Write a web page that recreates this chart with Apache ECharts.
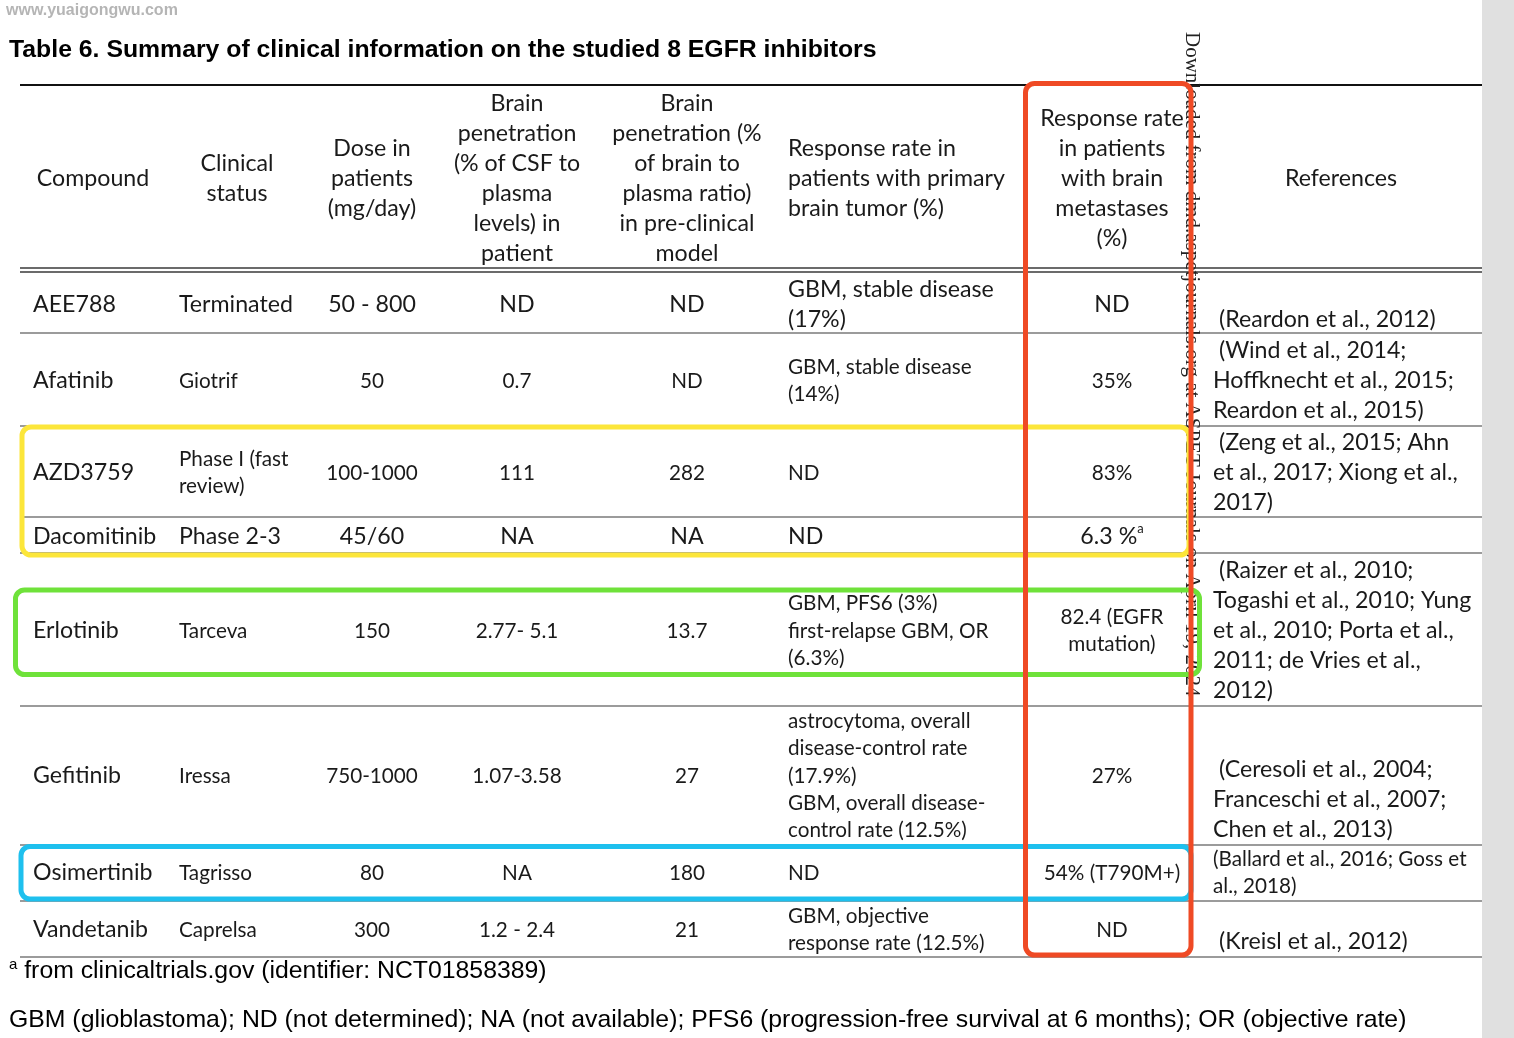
<!DOCTYPE html>
<html>
<head>
<meta charset="utf-8">
<title>Table 6</title>
<script src="https://cdn.jsdelivr.net/npm/echarts@6/dist/echarts.min.js"></script>
<style>
  html, body { margin: 0; padding: 0; background: #fff; }
  #chart { width: 1514px; height: 1038px; }
</style>
</head>
<body>
<div id="chart"></div>
<script>
// ---- table content ----
const headers = [
  'Compound',
  'Clinical\nstatus',
  'Dose in\npatients\n(mg/day)',
  'Brain\npenetration\n(% of CSF to\nplasma\nlevels) in\npatient',
  'Brain\npenetration (%\nof brain to\nplasma ratio)\nin pre-clinical\nmodel',
  'Response rate in\npatients with primary\nbrain tumor (%)',
  'Response rate\nin patients\nwith brain\nmetastases\n(%)',
  'References'
];
const compounds = ['AEE788', 'Afatinib', 'AZD3759', 'Dacomitinib', 'Erlotinib', 'Gefitinib', 'Osimertinib', 'Vandetanib'];
const clinicalStatus = ['Terminated', 'Giotrif', 'Phase I (fast\nreview)', 'Phase 2-3', 'Tarceva', 'Iressa', 'Tagrisso', 'Caprelsa'];
const doses = ['50 - 800', '50', '100-1000', '45/60', '150', '750-1000', '80', '300'];
const csfPenetration = ['ND', '0.7', '111', 'NA', '2.77- 5.1', '1.07-3.58', 'NA', '1.2 - 2.4'];
const brainPenetration = ['ND', 'ND', '282', 'NA', '13.7', '27', '180', '21'];
const primaryTumorResponse = [
  'GBM, stable disease\n(17%)',
  'GBM, stable disease\n(14%)',
  'ND',
  'ND',
  'GBM, PFS6 (3%)\nfirst-relapse GBM, OR\n(6.3%)',
  'astrocytoma, overall\ndisease-control rate\n(17.9%)\nGBM, overall disease-\ncontrol rate (12.5%)',
  'ND',
  'GBM, objective\nresponse rate (12.5%)'
];
const metastasesResponse = ['ND', '35%', '83%', '6.3 %{sup|a}', '82.4 (EGFR\nmutation)', '27%', '54% (T790M+)', 'ND'];
const references = [
  ' (Reardon et al., 2012)',
  ' (Wind et al., 2014;\nHoffknecht et al., 2015;\nReardon et al., 2015)',
  ' (Zeng et al., 2015; Ahn\net al., 2017; Xiong et al.,\n2017)',
  '',
  ' (Raizer et al., 2010;\nTogashi et al., 2010; Yung\net al., 2010; Porta et al.,\n2011; de Vries et al.,\n2012)',
  ' (Ceresoli et al., 2004;\nFranceschi et al., 2007;\nChen et al., 2013)',
  '(Ballard et al., 2016; Goss et\nal., 2018)',
  ' (Kreisl et al., 2012)'
];
const titleText = 'Table 6. Summary of clinical information on the studied 8 EGFR inhibitors';
const footnotes = [
  '{sup|a} from clinicaltrials.gov (identifier: NCT01858389)',
  'GBM (glioblastoma); ND (not determined); NA (not available); PFS6 (progression-free survival at 6 months); OR (objective rate)'
];
const watermark = 'www.yuaigongwu.com';
const sideNote = 'Downloaded from dmd.aspetjournals.org at ASPET Journals on April 19, 2024';

// ---- layout ----
const columns = [compounds, clinicalStatus, doses, csfPenetration, brainPenetration, primaryTumorResponse, metastasesResponse, references];
const colX = [33, 179, 372, 517, 687, 788, 1112, 1213];
const colAlign = ['left', 'left', 'center', 'center', 'center', 'left', 'center', 'left'];
const headX = [93, 237, 372, 517, 687, 788, 1112, 1341];
const headAlign = ['center', 'center', 'center', 'center', 'center', 'left', 'center', 'center'];
const headMid = 179;
const rowMid = [305, 381, 473, 537, 631, 776, 873, 930];
const refMid = [320, 381, 473, 537, 631, 800, 873, 942];
const smallRows = [1, 2, 4, 5, 6, 7];
const BIG = 23.2, SMALL = 20.7;
const FONT = 'Lato, "Noto Sans", sans-serif';
const ARIAL = '"Liberation Sans", Arial, sans-serif';
const tableLeft = 20, tableRight = 1482;

const rules = [
  { y: 85, w: 2, c: '#111' },
  { y: 268, w: 1.6, c: '#3a3a3a' },
  { y: 272, w: 1.6, c: '#3a3a3a' },
  { y: 333, w: 1.6, c: '#7a7a7a' },
  { y: 426, w: 1.6, c: '#7a7a7a' },
  { y: 517, w: 1.6, c: '#7a7a7a' },
  { y: 553, w: 1.6, c: '#7a7a7a' },
  { y: 706, w: 1.6, c: '#7a7a7a' },
  { y: 845, w: 1.6, c: '#7a7a7a' },
  { y: 901, w: 1.6, c: '#7a7a7a' },
  { y: 957, w: 1.6, c: '#7a7a7a' }
];
const boxes = [
  { x0: 22, y0: 427, x1: 1189, y1: 555, c: '#fce63a' },
  { x0: 15.5, y0: 590, x1: 1199.5, y1: 674.5, c: '#6fe23a' },
  { x0: 21, y0: 846.5, x1: 1191, y1: 899, c: '#1ec0ee' },
  { x0: 1025.5, y0: 83.5, x1: 1191, y1: 955, c: '#ef4a25' }
];

// build cell list for the custom series
const cells = [];
headers.forEach((h, c) => {
  cells.push({ value: [headX[c], headMid], text: h, align: headAlign[c], size: BIG, lh: 30 });
});
columns.forEach((col, c) => {
  col.forEach((t, r) => {
    let small = c > 0 && smallRows.indexOf(r) >= 0;
    if (c === 7) small = r === 6;
    cells.push({
      value: [colX[c], c === 7 ? refMid[r] : rowMid[r]],
      text: t,
      align: colAlign[c],
      size: small ? SMALL : BIG,
      lh: small ? 27.3 : 30
    });
  });
});

const notes = [
  { value: [9, 50], text: titleText, size: 24.8, weight: 'bold', color: '#000' },
  { value: [9, 971], text: footnotes[0], size: 24.8, weight: 'normal', color: '#000' },
  { value: [9, 1020], text: footnotes[1], size: 24.8, weight: 'normal', color: '#000' },
  { value: [6, 11], text: watermark, size: 16, weight: 'bold', color: '#b5b5b5' }
];

const chart = echarts.init(document.getElementById('chart'));

const option = {
  backgroundColor: '#fff',
  animation: false,
  grid: { left: 0, right: 0, top: 0, bottom: 0 },
  xAxis: { type: 'value', min: 0, max: 1514, show: false },
  yAxis: { type: 'value', min: 0, max: 1038, inverse: true, show: false },
  series: [
    {
      // grey page edge on the right
      type: 'custom',
      silent: true,
      data: [[tableRight, 0, 1514, 1038]],
      renderItem: (params, api) => {
        const p0 = api.coord([api.value(0), api.value(1)]);
        const p1 = api.coord([api.value(2), api.value(3)]);
        return {
          type: 'rect',
          shape: { x: p0[0], y: p0[1], width: p1[0] - p0[0], height: p1[1] - p0[1] },
          style: { fill: '#e0e0e0' }
        };
      }
    },
    {
      type: 'custom',
      silent: true,
      data: rules.map(r => [tableLeft, r.y, tableRight]),
      renderItem: (params, api) => {
        const r = rules[params.dataIndex];
        const a = api.coord([api.value(0), api.value(1)]);
        const b = api.coord([api.value(2), api.value(1)]);
        return {
          type: 'line',
          shape: { x1: a[0], y1: a[1], x2: b[0], y2: b[1] },
          style: { stroke: r.c, lineWidth: r.w }
        };
      }
    },
    {
      type: 'custom',
      silent: true,
      data: cells.map(d => d.value),
      renderItem: (params, api) => {
        const d = cells[params.dataIndex];
        const p = api.coord([api.value(0), api.value(1)]);
        return {
          type: 'text',
          x: p[0],
          y: p[1],
          style: {
            text: d.text,
            fontFamily: FONT,
            fontSize: d.size,
            lineHeight: d.lh,
            fill: '#1a1a1a',
            align: d.align,
            verticalAlign: 'middle',
            rich: { sup: { fontSize: 13, fontFamily: FONT, verticalAlign: 'top', lineHeight: 30 } }
          }
        };
      }
    },
    {
      type: 'custom',
      silent: true,
      data: notes.map(d => d.value),
      renderItem: (params, api) => {
        const d = notes[params.dataIndex];
        const p = api.coord([api.value(0), api.value(1)]);
        return {
          type: 'text',
          x: p[0],
          y: p[1],
          style: {
            text: d.text,
            fontFamily: ARIAL,
            fontSize: d.size,
            fontWeight: d.weight,
            fill: d.color,
            align: 'left',
            verticalAlign: 'middle',
            rich: { sup: { fontSize: 15, fontFamily: ARIAL, verticalAlign: 'top', lineHeight: 28 } }
          }
        };
      }
    },
    {
      // rotated download stamp
      type: 'custom',
      silent: true,
      data: [[1192, 32]],
      renderItem: (params, api) => {
        const p = api.coord([api.value(0), api.value(1)]);
        return {
          type: 'text',
          x: p[0],
          y: p[1],
          rotation: -Math.PI / 2,
          style: {
            text: sideNote,
            fontFamily: '"Liberation Serif", "DejaVu Serif", serif',
            fontSize: 21,
            fill: '#222',
            align: 'left',
            verticalAlign: 'middle'
          }
        };
      }
    },
    {
      type: 'custom',
      silent: true,
      data: boxes.map(b => [b.x0, b.y0, b.x1, b.y1]),
      renderItem: (params, api) => {
        const b = boxes[params.dataIndex];
        const p0 = api.coord([api.value(0), api.value(1)]);
        const p1 = api.coord([api.value(2), api.value(3)]);
        return {
          type: 'rect',
          shape: { x: p0[0], y: p0[1], width: p1[0] - p0[0], height: p1[1] - p0[1], r: 9 },
          style: { fill: 'none', stroke: b.c, lineWidth: 5 }
        };
      }
    }
  ]
};

chart.setOption(option);
</script>
</body>
</html>
